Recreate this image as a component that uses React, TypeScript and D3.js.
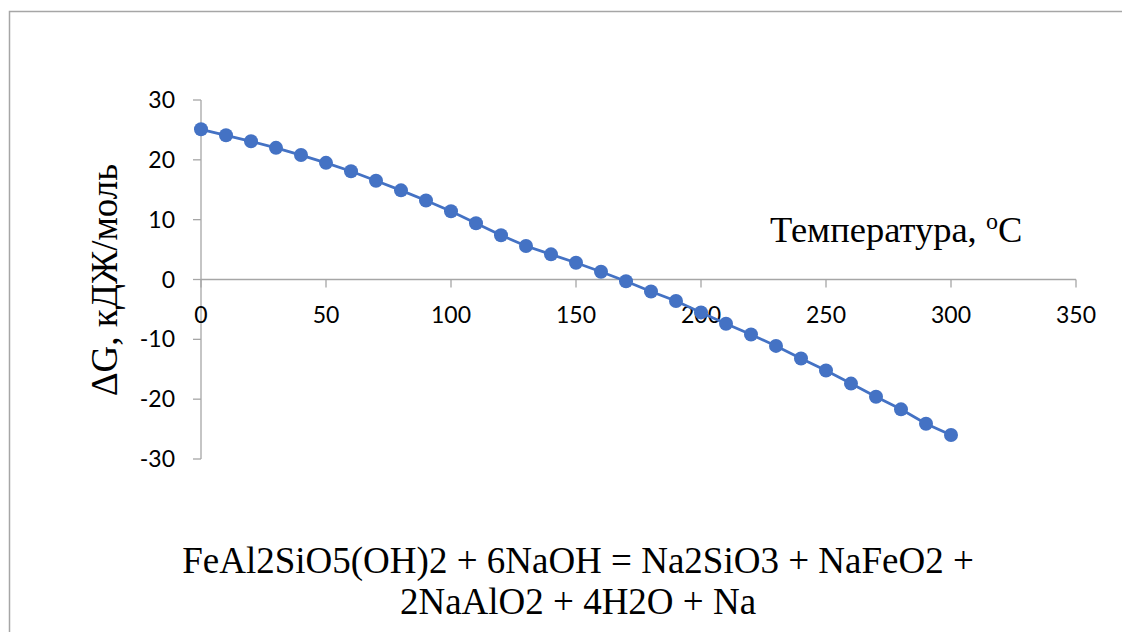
import React, { useEffect, useRef } from "react";
import * as d3 from "d3";

const temps = [0, 10, 20, 30, 40, 50, 60, 70, 80, 90, 100, 110, 120, 130, 140, 150, 160, 170, 180, 190, 200, 210, 220, 230, 240, 250, 260, 270, 280, 290, 300];
const deltaG = [25.1, 24.1, 23.1, 22.0, 20.8, 19.5, 18.1, 16.5, 14.9, 13.2, 11.4, 9.4, 7.4, 5.6, 4.2, 2.8, 1.3, -0.3, -2.0, -3.6, -5.5, -7.4, -9.2, -11.1, -13.2, -15.2, -17.4, -19.6, -21.7, -24.1, -26.0];
const xTicks = [0, 50, 100, 150, 200, 250, 300, 350];
const yTicks = [30, 20, 10, 0, -10, -20, -30];
const titleLines = ["FeAl2SiO5(OH)2 + 6NaOH = Na2SiO3 + NaFeO2 +", "2NaAlO2 + 4H2O + Na"];

export default function App() {
  const ref = useRef<SVGSVGElement | null>(null);

  useEffect(() => {
    const width = 1122;
    const height = 632;
    const svg = d3.select(ref.current);
    svg.selectAll("*").remove();

    const x = d3.scaleLinear().domain([0, 350]).range([201, 1076]);
    const y = d3.scaleLinear().domain([-30, 30]).range([459, 100]);
    const axisColor = "#a6a6a6";
    const tickFont = "Lato, 'Open Sans', sans-serif";
    const serif = "'Liberation Serif', 'DejaVu Serif', serif";

    // chart frame (runs off the right and bottom of the picture)
    svg.append("rect")
      .attr("x", 9.5).attr("y", 11.5)
      .attr("width", width + 20).attr("height", height + 20)
      .attr("fill", "white")
      .attr("stroke", axisColor)
      .attr("stroke-width", 1.5);

    // y axis
    svg.append("line")
      .attr("x1", x(0)).attr("x2", x(0))
      .attr("y1", y(30)).attr("y2", y(-30))
      .attr("stroke", axisColor).attr("stroke-width", 1.3);
    svg.selectAll("line.ytick")
      .data(yTicks)
      .enter()
      .append("line")
      .attr("x1", x(0) - 8).attr("x2", x(0))
      .attr("y1", d => y(d)).attr("y2", d => y(d))
      .attr("stroke", axisColor).attr("stroke-width", 1.3);
    svg.selectAll("text.ylab")
      .data(yTicks)
      .enter()
      .append("text")
      .attr("x", x(0) - 26)
      .attr("y", d => y(d) + 8)
      .attr("text-anchor", "end")
      .attr("font-family", tickFont)
      .attr("font-size", 23)
      .attr("fill", "#000")
      .text(d => d);

    // x axis at y = 0
    svg.append("line")
      .attr("x1", x(0)).attr("x2", x(350))
      .attr("y1", y(0)).attr("y2", y(0))
      .attr("stroke", axisColor).attr("stroke-width", 1.3);
    svg.selectAll("line.xtick")
      .data(xTicks)
      .enter()
      .append("line")
      .attr("x1", d => x(d)).attr("x2", d => x(d))
      .attr("y1", y(0)).attr("y2", y(0) + 8)
      .attr("stroke", axisColor).attr("stroke-width", 1.3);
    svg.selectAll("text.xlab")
      .data(xTicks)
      .enter()
      .append("text")
      .attr("x", d => x(d))
      .attr("y", y(0) + 43)
      .attr("text-anchor", "middle")
      .attr("font-family", tickFont)
      .attr("font-size", 23)
      .attr("fill", "#000")
      .text(d => d);

    // series
    const line = d3.line<number>()
      .x((d, i) => x(temps[i]))
      .y(d => y(d));
    svg.append("path")
      .datum(deltaG)
      .attr("d", line)
      .attr("fill", "none")
      .attr("stroke", "#4472c4")
      .attr("stroke-width", 2.8);
    svg.selectAll("circle")
      .data(deltaG)
      .enter()
      .append("circle")
      .attr("cx", (d, i) => x(temps[i]))
      .attr("cy", d => y(d))
      .attr("r", 7)
      .attr("fill", "#4472c4");

    // x axis title
    const xt = svg.append("text")
      .attr("x", 770).attr("y", 242)
      .attr("font-family", serif)
      .attr("font-size", 36.5)
      .attr("fill", "#000");
    xt.append("tspan").text("Температура, ");
    xt.append("tspan").attr("font-size", 24).attr("dy", -13).text("o");
    xt.append("tspan").attr("dy", 13).text("C");

    // y axis title
    svg.append("text")
      .attr("transform", `translate(117, 280) rotate(-90)`)
      .attr("text-anchor", "middle")
      .attr("font-family", serif)
      .attr("font-size", 37)
      .attr("fill", "#000")
      .text("ΔG, кДЖ/моль");

    // chart title
    svg.selectAll("text.title")
      .data(titleLines)
      .enter()
      .append("text")
      .attr("x", 578)
      .attr("y", (d, i) => 573 + i * 41)
      .attr("text-anchor", "middle")
      .attr("font-family", serif)
      .attr("font-size", 37)
      .attr("fill", "#000")
      .text(d => d);
  }, []);

  return (
    <div style={{ position: "absolute", left: 0, top: 0 }}>
      <svg ref={ref} width={1122} height={632} style={{ display: "block" }} />
    </div>
  );
}
